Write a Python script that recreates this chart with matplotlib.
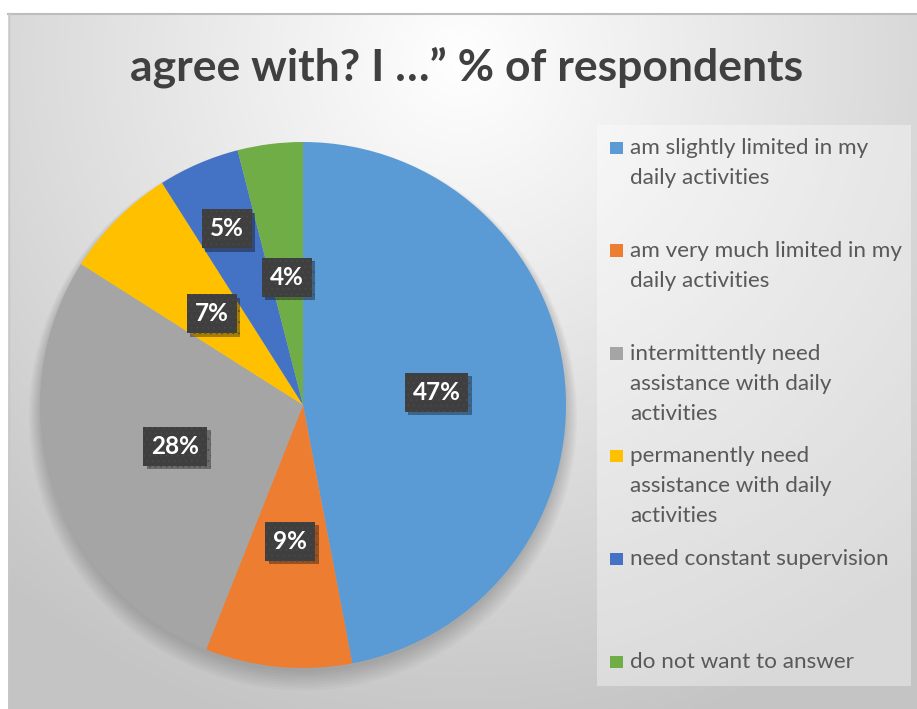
import numpy as np
import matplotlib
matplotlib.use("Agg")
import matplotlib.pyplot as plt
from matplotlib.patches import Rectangle, Circle
from matplotlib import patheffects as pe

# --- data -------------------------------------------------------------
title = "agree with? I \u2026\u201d % of respondents"
categories = [
    "am slightly limited in my\ndaily activities",
    "am very much limited in my\ndaily activities",
    "intermittently need\nassistance with daily\nactivities",
    "permanently need\nassistance with daily\nactivities",
    "need constant supervision",
    "do not want to answer",
]
shares = [47, 9, 28, 7, 5, 4]
colors = ["#5B9BD5", "#ED7D31", "#A5A5A5", "#FFC000", "#4472C4", "#70AD47"]
label_radius = [0.51, 0.52, 0.51, 0.49, 0.73, 0.49]

W, H = 917, 709
plt.rcParams["hatch.linewidth"] = 0.5
fig = plt.figure(figsize=(W / 100, H / 100), dpi=100)
fig.patch.set_facecolor("white")

# --- background: radial grey gradient inside the chart frame ------------
bg = fig.add_axes([0, 0, 1, 1])
bg.set_xlim(0, W)
bg.set_ylim(H, 0)
bg.axis("off")
x0, y0 = 8, 13
yy, xx = np.mgrid[0:H, 0:W]
d = np.hypot(xx - 460, (yy - 60) * 1.0)
val = 255 - 59 * np.clip(d / 700, 0, 1)
img = np.ones((H, W, 3))
img[:] = (val / 255)[..., None]
img[:y0, :, :] = 1
img[:, :x0, :] = 1
bg.imshow(img, extent=(0, W, H, 0), interpolation="bilinear", zorder=0)
bg.plot([x0, W], [y0 + 0.5, y0 + 0.5], color="#bdbdbd", lw=1.5, zorder=1)
bg.plot([x0 + 0.5, x0 + 0.5], [y0, H], color="#c8c8c8", lw=1, zorder=1)

# legend panel
bg.add_patch(Rectangle((597, 125), 314, 561, facecolor="white", alpha=0.36,
                       edgecolor="none", zorder=1))

bg.text(467, 67, title, ha="center", va="center", fontsize=32,
        fontweight="bold", family="Lato", color="#404040", zorder=2)

# --- pie -----------------------------------------------------------------
cx, cy, r = 303, 405, 263
ax = fig.add_axes([(cx - r) / W, (H - cy - r) / H, 2 * r / W, 2 * r / H])
ax.axis("off")

# soft shadow under the pie
for i in range(8):
    ax.add_patch(Circle((0.0, -0.015 - 0.004 * i), 1.0 + 0.006 * i,
                        facecolor="black", alpha=0.025, edgecolor="none",
                        zorder=0, clip_on=False))

wedges, _ = ax.pie(shares, colors=colors, startangle=90, counterclock=False,
                   radius=1.0, wedgeprops=dict(linewidth=0))
for w in wedges:
    w.set_zorder(1)
ax.set_xlim(-1, 1)
ax.set_ylim(-1, 1)
ax.set_aspect("equal")

total = sum(shares)
cum = 0
for v, lr in zip(shares, label_radius):
    mid = 90 - 360 * (cum + v / 2) / total
    cum += v
    a = np.deg2rad(mid)
    t = ax.text(lr * np.cos(a), lr * np.sin(a), f"{v}%", ha="center",
                va="center", fontsize=17.5, fontweight="bold", family="Lato",
                color="white", zorder=5,
                bbox=dict(boxstyle="square,pad=0.33", facecolor="#3f3f3f",
                          edgecolor="#4a4a4a", linewidth=0, hatch="..."))
    t.get_bbox_patch().set_path_effects([
        pe.SimplePatchShadow(offset=(2.5, -2.5), shadow_rgbFace="black",
                             alpha=0.35),
        pe.Normal()])

# --- legend -----------------------------------------------------------
first_y = 148
step = 102.8
line_h = 30
for i, (lab, c) in enumerate(zip(categories, colors)):
    y = first_y + i * step
    bg.add_patch(Rectangle((610, y - 6.5), 12.5, 12.5, facecolor=c,
                           edgecolor="none", zorder=3))
    for j, line in enumerate(lab.split("\n")):
        bg.text(630, y + j * line_h, line, ha="left", va="center",
                fontsize=16.2, family="Lato", color="#595959", zorder=3)

fig.savefig("out.png", dpi=100)
